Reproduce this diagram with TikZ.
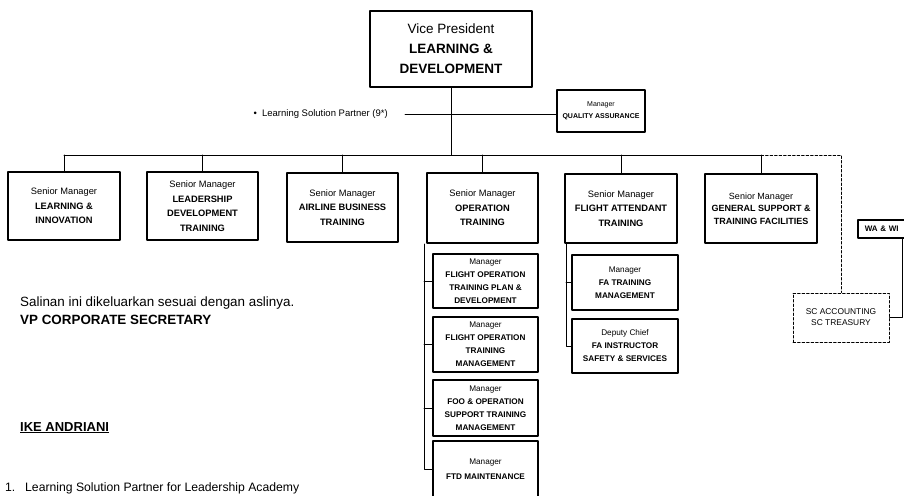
\documentclass[tikz,border=0pt]{standalone}
\usepackage{fontspec}
\setmainfont{Liberation Sans}
\usetikzlibrary{positioning}

\begin{document}
\begin{tikzpicture}[x=1pt,y=-1pt,line cap=round,line join=round,
  every node/.style={inner sep=0pt,align=center},
  kepala/.style={draw,line width=2pt,minimum width=111pt,minimum height=69pt,
    font=\fontsize{9.3}{14.5}\selectfont},
  anak/.style={draw,line width=1.5pt,minimum width=105pt,minimum height=55pt,
    font=\fontsize{8.2}{13}\selectfont},
  garis/.style={line width=1pt},
  putus/.style={line width=1pt,dash pattern=on 2.5pt off 2pt}]

  \useasboundingbox (0,0) rectangle (904,495);
  \clip (0,0) rectangle (904,495);

  %-------------------------
  % Vice President dan QA
  %-------------------------
  \node[draw,line width=2pt,minimum width=162pt,minimum height=76pt,
        font=\fontsize{13.5}{20}\selectfont] (vp) at (451,49)
       {Vice President\\\textbf{LEARNING \&}\\\textbf{DEVELOPMENT}};

  \node[draw,line width=1.5pt,minimum width=88pt,minimum height=42pt,
        font=\fontsize{7}{12}\selectfont] (qa) at (601,111)
       {Manager\\\textbf{QUALITY ASSURANCE}};

  \node[anchor=east,font=\fontsize{9.5}{11}\selectfont] (lsp) at (388,114)
       {\textbullet\ \ Learning Solution Partner (9*)};
  \draw[garis] ([xshift=17pt]lsp.east) -- (lsp.east -| qa.west);

  %-------------------------
  % Senior Manager
  %-------------------------
  \coordinate (bus) at (0,155);

  \node[kepala,minimum width=112pt,minimum height=68pt] (lin) at (64,206)
       {Senior Manager\\\textbf{LEARNING \&}\\\textbf{INNOVATION}};
  \node[kepala,minimum height=68pt] (ldt) at (202.5,206)
       {Senior Manager\\\textbf{LEADERSHIP}\\\textbf{DEVELOPMENT}\\\textbf{TRAINING}};
  \node[kepala] (abt) at (342.5,207.5)
       {Senior Manager\\\textbf{AIRLINE BUSINESS}\\\textbf{TRAINING}};
  \node[kepala,minimum height=70pt] (opt) at (482.5,208)
       {Senior Manager\\\textbf{OPERATION}\\\textbf{TRAINING}};
  \node[kepala,minimum width=112pt] (fat) at (621,208.5)
       {Senior Manager\\\textbf{FLIGHT ATTENDANT}\\\textbf{TRAINING}};
  \node[kepala,minimum width=112pt,font=\fontsize{9}{12.5}\selectfont] (gst) at (761,208.5)
       {Senior Manager\\\textbf{GENERAL SUPPORT \&}\\\textbf{TRAINING FACILITIES}};

  \draw[garis] (vp.south) -- (vp.south |- bus);
  \draw[garis] (lin.north |- bus) -- (gst.north |- bus);
  \foreach \k in {lin,ldt,abt,opt,fat,gst}
    \draw[garis] (\k.north) -- (\k.north |- bus);

  %-------------------------
  % WA dan SC (garis putus)
  %-------------------------
  \node[draw,line width=1.5pt,anchor=west,minimum width=100pt,minimum height=18pt,
        text width=86pt,align=left,inner xsep=7pt,
        font=\fontsize{8}{9}\selectfont] (wa) at (857,229) {\textbf{WA \& WI}};

  \node[draw,putus,minimum width=96pt,minimum height=49pt,
        font=\fontsize{8.4}{11}\selectfont] (sc) at (841,317.5)
       {SC ACCOUNTING\\SC TREASURY};

  \draw[putus] (gst.north |- bus) -| (sc.north);
  \draw[garis] (sc.east) -| ([xshift=45pt]wa.south west);

  %-------------------------
  % Operation Training
  %-------------------------
  \coordinate (opx) at (424,0);

  \node[anak,minimum height=54pt] (opa) at (485.5,281)
       {Manager\\\textbf{FLIGHT OPERATION}\\\textbf{TRAINING PLAN \&}\\\textbf{DEVELOPMENT}};
  \node[anak] (opb) at (485.5,344.5)
       {Manager\\\textbf{FLIGHT OPERATION}\\\textbf{TRAINING}\\\textbf{MANAGEMENT}};
  \node[anak,minimum height=56pt] (opc) at (485.5,408)
       {Manager\\\textbf{FOO \& OPERATION}\\\textbf{SUPPORT TRAINING}\\\textbf{MANAGEMENT}};
  \node[anak,minimum height=56pt,font=\fontsize{8.2}{15}\selectfont] (opd) at (485.5,469)
       {Manager\\\textbf{FTD MAINTENANCE}};

  \draw[garis] (opt.south -| opx) -- (opd.west -| opx) -- (opd.west);
  \foreach \k in {opa,opb,opc}
    \draw[garis] (\k.west -| opx) -- (\k.west);

  %-------------------------
  % Flight Attendant Training
  %-------------------------
  \coordinate (fax) at (566,0);

  \node[anak,minimum width=106pt] (faa) at (625,282.5)
       {Manager\\\textbf{FA TRAINING}\\\textbf{MANAGEMENT}};
  \node[anak,minimum width=106pt,minimum height=54pt] (fab) at (625,346)
       {Deputy Chief\\\textbf{FA INSTRUCTOR}\\\textbf{SAFETY \& SERVICES}};

  \draw[garis] (fat.south -| fax) -- (fab.west -| fax) -- (fab.west);
  \draw[garis] (faa.west -| fax) -- (faa.west);

  %-------------------------
  % Teks kiri bawah
  %-------------------------
  \node[anchor=base west,font=\fontsize{13.4}{15}\selectfont] (salinan) at (20,306)
       {Salinan ini dikeluarkan sesuai dengan aslinya.};
  \node[anchor=base west,font=\bfseries\fontsize{13.4}{15}\selectfont] (vpcs) at (20,324)
       {VP CORPORATE SECRETARY};
  \node[anchor=base west,font=\bfseries\fontsize{13}{15}\selectfont] (ike) at (20,431)
       {\underline{IKE ANDRIANI}};
  \node[anchor=base west,font=\fontsize{12.2}{14}\selectfont] (no1) at (5,491) {1.};
  \node[anchor=base west,font=\fontsize{12.2}{14}\selectfont] (catatan) at (25,491)
       {Learning Solution Partner for Leadership Academy};

\end{tikzpicture}
\end{document}
